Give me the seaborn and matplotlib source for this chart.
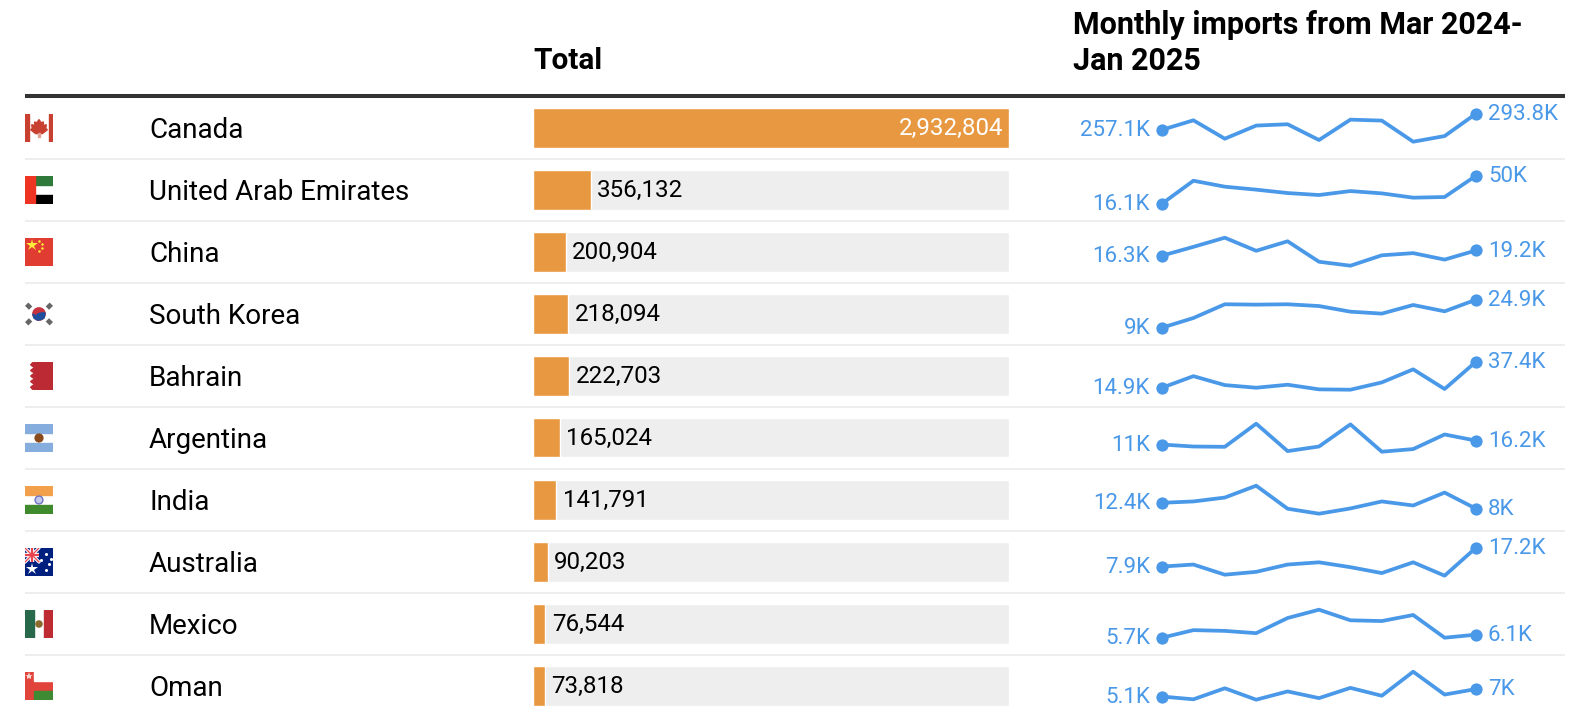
import matplotlib
matplotlib.use("Agg")
import matplotlib.pyplot as plt
from matplotlib.patches import Circle, Polygon, Rectangle
import pandas as pd
import seaborn as sns

countries = ["Canada", "United Arab Emirates", "China", "South Korea", "Bahrain",
             "Argentina", "India", "Australia", "Mexico", "Oman"]
totals = [2932804, 356132, 200904, 218094, 222703, 165024, 141791, 90203, 76544, 73818]
month_index = list(range(11))

# monthly imports in thousands, Mar 2024 - Jan 2025
canada = [257.1, 278.8, 236.9, 266.8, 269.8, 233.9, 280.3, 278.1, 230.1, 242.9, 293.8]
uae = [16.1, 43.9, 36.7, 33.1, 29.0, 26.6, 31.4, 28.6, 23.4, 24.2, 50.0]
china = [16.3, 21.2, 26.3, 19.0, 24.3, 12.9, 10.7, 16.5, 17.7, 14.1, 19.2]
korea = [9.0, 14.5, 22.3, 22.1, 22.3, 21.3, 18.1, 17.0, 21.9, 18.3, 24.9]
bahrain = [14.9, 24.9, 17.2, 14.9, 17.5, 13.5, 13.2, 19.5, 30.8, 13.8, 37.4]
argentina = [11.0, 8.4, 8.0, 38.7, 2.3, 8.4, 37.8, 1.5, 5.0, 24.4, 16.2]
india = [12.4, 13.4, 16.3, 25.1, 8.0, 4.3, 8.2, 13.4, 10.4, 20.0, 8.0]
australia = [7.9, 8.9, 3.9, 5.3, 8.9, 10.0, 7.6, 4.7, 10.0, 3.4, 17.2]
mexico = [5.7, 6.7, 6.6, 6.3, 8.3, 9.4, 8.0, 7.9, 8.7, 5.7, 6.1]
oman = [5.1, 4.4, 7.2, 4.3, 6.4, 4.7, 7.3, 5.3, 11.4, 5.6, 7.0]
monthly = [canada, uae, china, korea, bahrain, argentina, india, australia, mexico, oman]
first_labels = ["257.1K", "16.1K", "16.3K", "9K", "14.9K", "11K", "12.4K", "7.9K", "5.7K", "5.1K"]
last_labels = ["293.8K", "50K", "19.2K", "24.9K", "37.4K", "16.2K", "8K", "17.2K", "6.1K", "7K"]

W, H = 1582, 719
ROW = 62
ORANGE = "#E89840"
TRACK = "#EEEEEE"
BLUE = "#4A98E8"

sns.set_theme(style="white")
plt.rcParams["font.family"] = ["Roboto", "DejaVu Sans"]


def add_ax(left, top, width, height, **kw):
    # axes placed in reference pixels (y measured from the top)
    ax = fig.add_axes([left / W, 1 - (top + height) / H, width / W, height / H], **kw)
    ax.set_axis_off()
    return ax


def canada_flag(ax):
    ax.add_patch(Rectangle((0, 0), 1, 1, color="white"))
    ax.add_patch(Rectangle((0, 0), 0.16, 1, color="#C8402F"))
    ax.add_patch(Rectangle((0.84, 0), 0.16, 1, color="#C8402F"))
    ax.add_patch(Polygon([(0.5, 0.2), (0.58, 0.32), (0.66, 0.28), (0.64, 0.42), (0.76, 0.38),
                          (0.74, 0.52), (0.8, 0.56), (0.62, 0.7), (0.38, 0.7), (0.2, 0.56),
                          (0.26, 0.52), (0.24, 0.38), (0.36, 0.42), (0.34, 0.28), (0.42, 0.32)],
                         color="#C8402F"))
    ax.add_patch(Rectangle((0.47, 0.68), 0.06, 0.14, color="#E2A196"))


def uae_flag(ax):
    ax.add_patch(Rectangle((0.35, 0), 0.65, 0.33, color="#2F7A3A"))
    ax.add_patch(Rectangle((0.35, 0.67), 0.65, 0.33, color="black"))
    ax.add_patch(Rectangle((0, 0), 0.35, 1, color="#EE3524"))


def china_flag(ax):
    ax.add_patch(Rectangle((0, 0), 1, 1, color="#E03C31"))
    ax.plot(0.25, 0.25, marker="*", ms=9, color="#FFEB3B", mew=0)
    for x, y in [(0.5, 0.1), (0.6, 0.22), (0.6, 0.36), (0.5, 0.47)]:
        ax.plot(x, y, marker="o", ms=1.8, color="#FFEB3B", mew=0)


def korea_flag(ax):
    ax.add_patch(Circle((0.5, 0.5), 0.22, color="#C8313E"))
    ax.add_patch(Polygon([(0.28, 0.5), (0.38, 0.56), (0.5, 0.48), (0.62, 0.46), (0.72, 0.46),
                          (0.68, 0.64), (0.58, 0.7), (0.44, 0.72), (0.32, 0.64)], color="#1F4E9C"))
    for x, y, s in [(0.13, 0.22, 1), (0.87, 0.22, -1), (0.13, 0.78, -1), (0.87, 0.78, 1)]:
        ax.plot([x - 0.07, x + 0.07], [y - 0.07 * s, y + 0.07 * s], color="#666666", lw=3.4,
                solid_capstyle="butt")


def bahrain_flag(ax):
    ax.add_patch(Polygon([(0.3, 0), (1, 0), (1, 1), (0.3, 1), (0.2, 0.9), (0.34, 0.8), (0.2, 0.7),
                          (0.34, 0.6), (0.2, 0.5), (0.34, 0.4), (0.2, 0.3), (0.34, 0.2), (0.2, 0.1)],
                         color="#BC2B33"))


def argentina_flag(ax):
    ax.add_patch(Rectangle((0, 0), 1, 0.33, color="#85AEDF"))
    ax.add_patch(Rectangle((0, 0.67), 1, 0.33, color="#85AEDF"))
    ax.add_patch(Circle((0.5, 0.5), 0.14, color="#8A4A1C"))


def india_flag(ax):
    ax.add_patch(Rectangle((0, 0), 1, 0.33, color="#F2A04C"))
    ax.add_patch(Rectangle((0, 0.67), 1, 0.33, color="#3E8A2C"))
    ax.add_patch(Circle((0.5, 0.5), 0.14, fc="#C4C8EC", ec="#6C74C2", lw=1))


def australia_flag(ax):
    ax.add_patch(Rectangle((0, 0), 1, 1, color="#00207F"))
    ax.plot([0, 0.5], [0, 0.5], color="white", lw=2.4)
    ax.plot([0, 0.5], [0.5, 0], color="white", lw=2.4)
    ax.plot([0, 0.5], [0.25, 0.25], color="white", lw=3.2, solid_capstyle="butt")
    ax.plot([0.25, 0.25], [0, 0.5], color="white", lw=3.2, solid_capstyle="butt")
    ax.plot([0, 0.5], [0, 0.5], color="#E8434F", lw=0.9)
    ax.plot([0, 0.5], [0.5, 0], color="#E8434F", lw=0.9)
    ax.plot([0, 0.5], [0.25, 0.25], color="#E8434F", lw=1.6, solid_capstyle="butt")
    ax.plot([0.25, 0.25], [0, 0.5], color="#E8434F", lw=1.6, solid_capstyle="butt")
    ax.plot(0.25, 0.76, marker="*", ms=9, color="white", mew=0)
    for x, y in [(0.76, 0.2), (0.58, 0.44), (0.92, 0.38), (0.84, 0.56), (0.76, 0.8)]:
        ax.plot(x, y, marker="o", ms=2.2, color="white", mew=0)


def mexico_flag(ax):
    ax.add_patch(Rectangle((0, 0), 0.33, 1, color="#28684B"))
    ax.add_patch(Rectangle((0.67, 0), 0.33, 1, color="#BF2B32"))
    ax.add_patch(Circle((0.5, 0.5), 0.11, color="#8C6A2E"))


def oman_flag(ax):
    ax.add_patch(Rectangle((0, 0), 1, 1, color="#E0443A"))
    ax.add_patch(Rectangle((0.32, 0), 0.68, 0.33, color="white"))
    ax.add_patch(Rectangle((0.32, 0.67), 0.68, 0.33, color="#3E8A35"))
    ax.plot(0.16, 0.16, marker="*", ms=6, color="#F6D5D0", mew=0)


flags = [canada_flag, uae_flag, china_flag, korea_flag, bahrain_flag,
         argentina_flag, india_flag, australia_flag, mexico_flag, oman_flag]

fig = plt.figure(figsize=(W / 100, H / 100), dpi=100, facecolor="white")

# page axes for rules, headers and country names
page = add_ax(0, 0, W, H)
page.set_xlim(0, W)
page.set_ylim(H, 0)
page.hlines(96, 25, 1565, color="#333333", lw=2.9)
page.hlines([159 + ROW * i for i in range(9)], 25, 1565, color=TRACK, lw=1.44)
page.text(533, 69, "Total", fontsize=21.4, fontweight="bold", color="black", va="baseline")
page.text(1073, 69.5, "Monthly imports from Mar 2024-\nJan 2025", fontsize=22, fontweight="bold",
          color="black", va="baseline", linespacing=1.24)
for i, name in enumerate(countries):
    page.text(149, 138 + ROW * i, name, fontsize=20, color="black", va="baseline")

# totals as bars on a grey track
df = pd.DataFrame({"country": countries, "total": totals})
df["track"] = max(totals)
bars = add_ax(533, 96.5, 476, ROW * 10)
sns.barplot(data=df, y="country", x="track", color=TRACK, width=40 / ROW, saturation=1, ax=bars)
sns.barplot(data=df, y="country", x="total", color=ORANGE, width=40 / ROW, saturation=1, ax=bars)
bars.set_xlim(0, max(totals))
bars.set_ylim(9.5, -0.5)
bars.set_axis_off()
for i, v in enumerate(totals):
    if v == max(totals):
        bars.annotate(f"{v:,}", (v, i), xytext=(-4, -0.9), textcoords="offset points", ha="right",
                      va="center", fontsize=17.4, color="white")
    else:
        bars.annotate(f"{v:,}", (v, i), xytext=(4.7, -0.9), textcoords="offset points", ha="left",
                      va="center", fontsize=17.4, color="black")

# one flag and one sparkline per row
for i, series in enumerate(monthly):
    flag_ax = add_ax(25, 114 + ROW * i, 28, 28)
    flag_ax.set_xlim(0, 1)
    flag_ax.set_ylim(1, 0)
    flags[i](flag_ax)

    ax = add_ax(1162, 113.7 + ROW * i, 314, 28)
    sns.lineplot(x=month_index, y=series, color=BLUE, linewidth=2.7, ax=ax, clip_on=False)
    sns.scatterplot(x=[month_index[0], month_index[-1]], y=[series[0], series[-1]], color=BLUE,
                    s=78, linewidth=0, ax=ax, clip_on=False, zorder=3)
    ax.set_xlim(month_index[0], month_index[-1])
    ax.set_ylim(min(series), max(series))
    ax.set_axis_off()
    ax.annotate(first_labels[i], (month_index[0], series[0]), xytext=(-8.6, -0.5), textcoords="offset points",
                ha="right", va="center", fontsize=16, color=BLUE, annotation_clip=False)
    ax.annotate(last_labels[i], (month_index[-1], series[-1]), xytext=(8.6, -0.5), textcoords="offset points",
                ha="left", va="center", fontsize=16, color=BLUE, annotation_clip=False)

fig.savefig("out.png", dpi=100)
